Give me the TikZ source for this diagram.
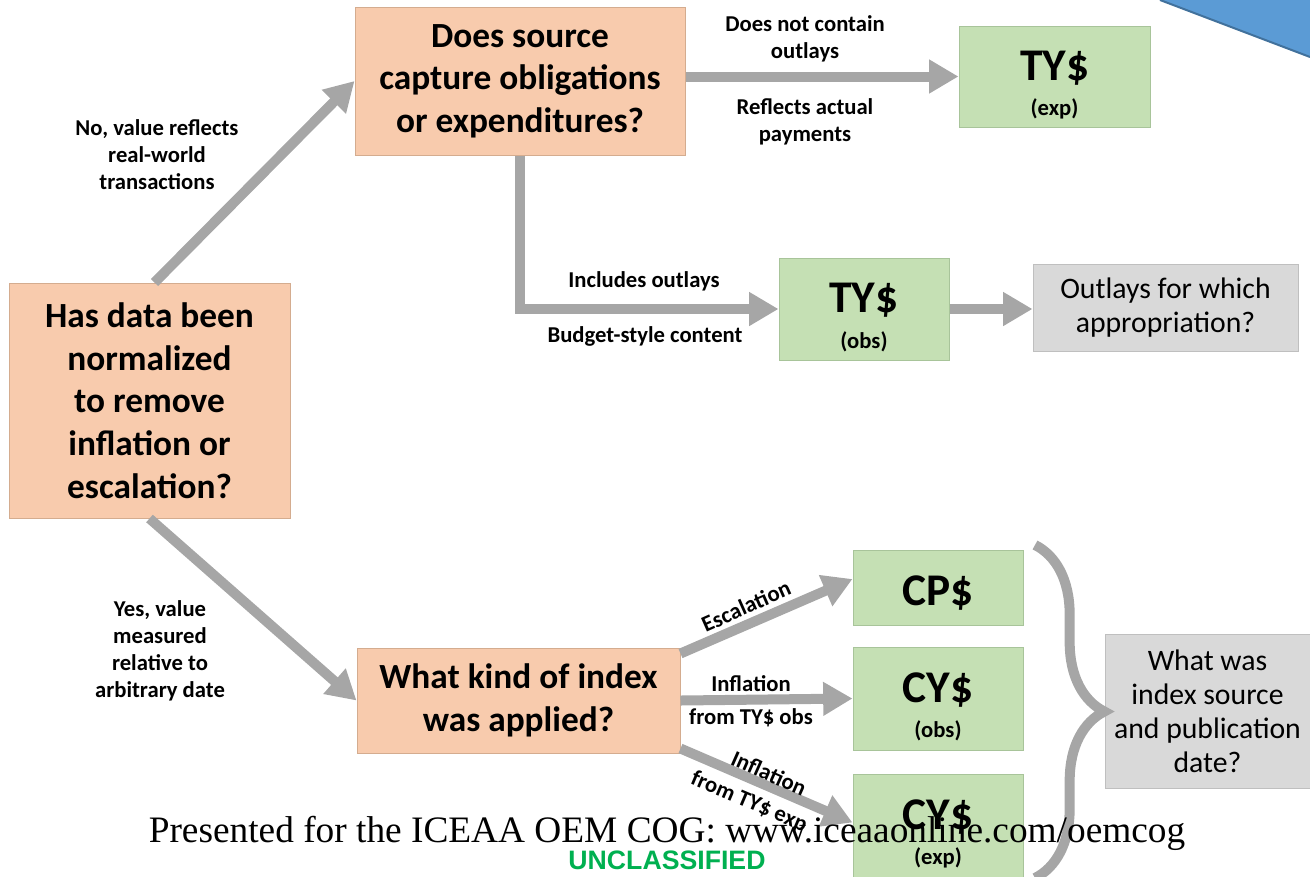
\documentclass[tikz,border=0pt]{standalone}
\usepackage{fontspec}
\setmainfont{Carlito}
\newfontfamily\footfont{Liberation Serif}
\newfontfamily\classfont{Liberation Sans}
\usepackage{tikz}
\usetikzlibrary{arrows.meta,calc,positioning,decorations.pathreplacing}
\definecolor{peach}{HTML}{F8CBAD}
\definecolor{peachline}{HTML}{D4AC8F}
\definecolor{leaf}{HTML}{C5E0B4}
\definecolor{leafline}{HTML}{A8C49A}
\definecolor{boxgray}{HTML}{D9D9D9}
\definecolor{boxgrayline}{HTML}{BFBFBF}
\definecolor{arrowgray}{HTML}{A6A6A6}
\definecolor{bannerblue}{HTML}{5B9BD5}
\definecolor{bannerline}{HTML}{41719C}
\definecolor{classgreen}{HTML}{00B050}
\newcommand{\dollarbox}[2]{{\fontsize{34}{34}\selectfont\rule{0pt}{35pt}#1}\\{#2}}
\begin{document}
\begin{tikzpicture}[x=0.75pt,y=-0.75pt,
	q_node/.style={rectangle,fill=peach,draw=peachline,line width=0.75pt,inner sep=0pt,align=center,font=\bfseries\fontsize{26.5}{32}\selectfont},
	res_node/.style={rectangle,fill=leaf,draw=leafline,line width=0.75pt,inner sep=0pt,align=center,minimum width=127.5pt,font=\bfseries\fontsize{17}{26.5}\selectfont},
	note_node/.style={rectangle,fill=boxgray,draw=boxgrayline,line width=0.75pt,inner sep=0pt,align=center,font=\fontsize{22.3}{25.5}\selectfont},
	flow_arrow/.style={draw=arrowgray,line width=7.5pt,-{Triangle[width=24pt,length=22pt]}},
	edge_label/.style={align=center,font=\bfseries\fontsize{17}{20.3}\selectfont},
	brace_line/.style={draw=arrowgray,line width=7.5pt,decorate,decoration={brace,amplitude=52pt}}]
	
	\clip (0,0) rectangle (1310,876);
	
	% banner corner
	\fill[bannerblue] (1160,0) -- (1310,57) -- (1310,0) -- cycle;
	\draw[bannerline,line width=1.5pt] (1160,0) -- (1310,57);
	
	% questions
	\node[q_node,minimum width=210.75pt,minimum height=176.25pt] (norm) at (149.5,400.5) {Has data been\\normalized\\to remove\\inflation or\\escalation?};
	\node[q_node,minimum width=247.5pt,minimum height=111pt] (src) at (520,81) {Does source\\capture obligations\\or expenditures?};
	\node[q_node,minimum width=242.25pt,minimum height=78.75pt] (idx) at (518.5,700.5) {What kind of index\\was applied?};
	
	% results
	\node[res_node,minimum width=143.25pt,minimum height=75.75pt] (tyexp) at (1054.5,76.5) {\dollarbox{TY\$}{(exp)}};
	\node[res_node,minimum height=76.5pt] (tyobs) at (864,309) {\dollarbox{TY\$}{(obs)}};
	\node[res_node,minimum height=56.25pt,font=\bfseries\fontsize{34}{34}\selectfont] (cp) at (938,588) {\rule{0pt}{30pt}CP\$};
	\node[res_node,minimum height=77.25pt] (cyobs) at (938,698.5) {\dollarbox{CY\$}{(obs)}};
	\node[res_node,minimum height=77.25pt] (cyexp) at (938,825.5) {\dollarbox{CY\$}{(exp)}};
	
	% follow-up questions
	\node[note_node,minimum width=198.75pt,minimum height=65.25pt] (outl) at (1165.5,307.5) {Outlays for which\\appropriation?};
	\node[note_node,minimum width=153.75pt,minimum height=115.5pt] (idxsrc) at (1207.5,711) {What was\\index source\\and publication\\date?};
	
	% arrows
	\draw[flow_arrow] ($(norm.north)+(5,0)$) -- (src.west);
	\draw[flow_arrow] (norm.south) -- (idx.west);
	\draw[flow_arrow] (src.east |- tyexp.west) -- (tyexp.west);
	\draw[flow_arrow] (src.south) |- (tyobs.west);
	\draw[flow_arrow] (tyobs.east) -- (tyobs.east -| outl.west);
	\draw[flow_arrow] ($(idx.north east)+(0,6)$) -- ($(cp.west)+(0,-9)$);
	\draw[flow_arrow] (idx.east) -- (cyobs.west);
	\draw[flow_arrow] ($(idx.south east)+(0,-5)$) -- ($(cyexp.west)+(0,-3)$);
	
	% brace
	\coordinate (brace_top) at (1035,545);
	\coordinate (brace_bot) at (1035,878);
	\draw[brace_line] (brace_top) -- (brace_bot);
	
	% arrow labels
	\node[edge_label] (lno) at (157,155) {No, value reflects\\real-world\\transactions};
	\node[edge_label] (lyes) at (160,650.5) {Yes, value\\measured\\relative to\\arbitrary date};
	\node[edge_label] (lnot) at (805,39) {Does not contain\\outlays};
	\node[edge_label] (lact) at (805,122) {Reflects actual\\payments};
	\node[edge_label] (linc) at (644,281) {Includes outlays};
	\node[edge_label] (lbud) at (645,336) {Budget-style content};
	\node[edge_label,rotate=24] (lesc) at (746,606) {Escalation};
	\node[edge_label] (linf) at (751,684) {Inflation};
	\node[edge_label] (lobs) at (751,718) {from TY\$ obs};
	\node[edge_label,rotate=-24] (linf2) at (769,773) {Inflation};
	\node[edge_label,rotate=-23] (lexp) at (749,802) {from TY\$ exp};
	
	% footer
	\node[anchor=base,font=\footfont\fontsize{28}{30}\selectfont] (foot) at (667,842) {Presented for the ICEAA OEM COG: www.iceaaonline.com/oemcog};
	\node[anchor=base,font=\classfont\bfseries\fontsize{20}{22}\selectfont,text=classgreen] (cls) at (667,869) {UNCLASSIFIED};
\end{tikzpicture}
\end{document}
